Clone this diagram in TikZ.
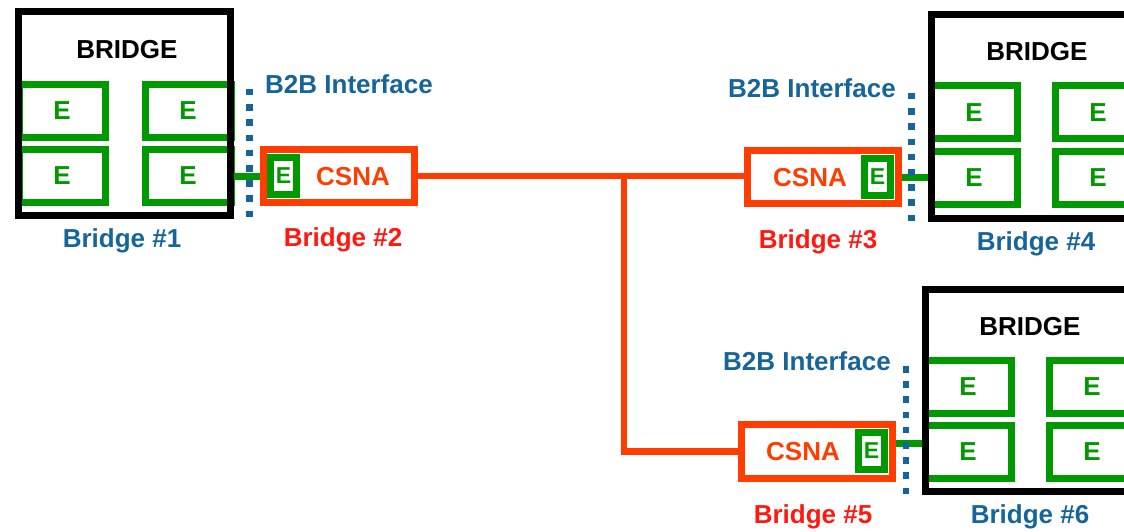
\documentclass[tikz,border=0pt]{standalone}
\usepackage{fontspec}
\setmainfont{Liberation Sans}
\usepackage{tikz}

\definecolor{bblue}{RGB}{21,100,154}
\definecolor{borange}{RGB}{255,61,0}
\definecolor{bred}{RGB}{255,24,16}
\definecolor{egreen}{RGB}{0,153,0}

\tikzset{
	bridge/.style={shape=rectangle,draw=black,line width=7pt,minimum width=212pt,minimum height=204pt,inner sep=0pt},
	ebox/.style={shape=rectangle,draw=egreen,line width=7pt,minimum width=86pt,minimum height=53pt,inner sep=0pt,text=egreen,font=\fontsize{26}{30}\selectfont\bfseries},
	sbox/.style={shape=rectangle,draw=egreen,line width=6.5pt,minimum width=26pt,minimum height=37pt,inner sep=0pt,text=egreen,font=\fontsize{23}{26}\selectfont\bfseries},
	csna/.style={shape=rectangle,draw=borange,line width=7pt,minimum width=151pt,minimum height=53pt,inner sep=0pt},
	txt/.style={inner sep=0pt,font=\fontsize{26}{30}\selectfont\bfseries},
	b2b/.style={draw=bblue,line width=6.5pt,dash pattern=on 6.5pt off 8.7pt},
	elink/.style={draw=egreen,line width=7pt},
	olink/.style={draw=borange,line width=6.5pt}
}

\begin{document}
\begin{tikzpicture}[x=1pt,y=-1pt]
	\useasboundingbox (0,0) rectangle (1124,532);
	\clip (0,0) rectangle (1124,532);

	% E ports inside the bridges
	\node[ebox] (e1a) at (62, 111)     {E};
	\node[ebox] (e1b) at (188, 111)    {E};
	\node[ebox] (e1c) at (62, 176)     {E};
	\node[ebox] (e1d) at (188, 176)    {E};
	\node[ebox] (e4a) at (974, 112.5)  {E};
	\node[ebox] (e4b) at (1098, 112.5) {E};
	\node[ebox] (e4c) at (974, 178)    {E};
	\node[ebox] (e4d) at (1098, 178)   {E};
	\node[ebox] (e6a) at (968, 386.5)  {E};
	\node[ebox] (e6b) at (1092, 386.5) {E};
	\node[ebox] (e6c) at (968, 452)    {E};
	\node[ebox] (e6d) at (1092, 452)   {E};

	% bridges
	\node[bridge] (b1) at (124.5, 113.5) {};
	\node[bridge] (b4) at (1037, 116.5)  {};
	\node[bridge,minimum height=202pt] (b6) at (1031, 390) {};
	\node[txt] (t1) at (127, 50)  {BRIDGE};
	\node[txt] (t4) at (1037, 52) {BRIDGE};
	\node[txt] (t6) at (1030, 327) {BRIDGE};

	% CSNA boxes
	\node[csna] (c2) at (339, 176)   {};
	\node[csna] (c3) at (823, 177)   {};
	\node[csna,minimum height=54pt] (c5) at (817, 451.5) {};
	\node[sbox] (c2e) at (283.5, 176) {E};
	\node[sbox] (c3e) at (877.5, 177) {E};
	\node[sbox] (c5e) at (871.5, 451) {E};
	\node[txt,text=borange] (n2) at (353, 177) {CSNA};
	\node[txt,text=borange] (n3) at (810, 178) {CSNA};
	\node[txt,text=borange] (n5) at (803, 452) {CSNA};

	% names
	\node[txt,text=bblue] (l1) at (122, 241)  {Bridge \#1};
	\node[txt,text=bred]  (l2) at (343, 240)  {Bridge \#2};
	\node[txt,text=bred]  (l3) at (818, 242)  {Bridge \#3};
	\node[txt,text=bblue] (l4) at (1036, 244) {Bridge \#4};
	\node[txt,text=bred]  (l5) at (813, 517)  {Bridge \#5};
	\node[txt,text=bblue] (l6) at (1030, 517) {Bridge \#6};

	% B2B interfaces
	\node[txt,text=bblue] (i1) at (349, 84)  {B2B Interface};
	\node[txt,text=bblue] (i3) at (812, 88)  {B2B Interface};
	\node[txt,text=bblue] (i5) at (807, 361) {B2B Interface};
	\coordinate (d1a) at (249.5, 89);
	\coordinate (d1b) at (249.5, 222);
	\coordinate (d3a) at (911.5, 93);
	\coordinate (d3b) at (911.5, 223);
	\coordinate (d5a) at (906, 366);
	\coordinate (d5b) at (906, 499);

	\coordinate (j) at (624, 176);
	\coordinate (g5) at ([yshift=8pt]c5.east);

	\path[elink] (b1.east |- c2e) edge (c2.west |- c2e);
	\path[elink] (c3.east |- c3e) edge (b4.west |- c3e);
	\path[elink] (g5) edge (g5 -| b6.west);
	\path[olink] (c2.east) edge (c3.west |- c2.east);
	\draw[olink] (j) |- (c5.west);
	\path[b2b] (d1a) edge (d1b);
	\path[b2b] (d3a) edge (d3b);
	\path[b2b] (d5a) edge (d5b);
\end{tikzpicture}
\end{document}
